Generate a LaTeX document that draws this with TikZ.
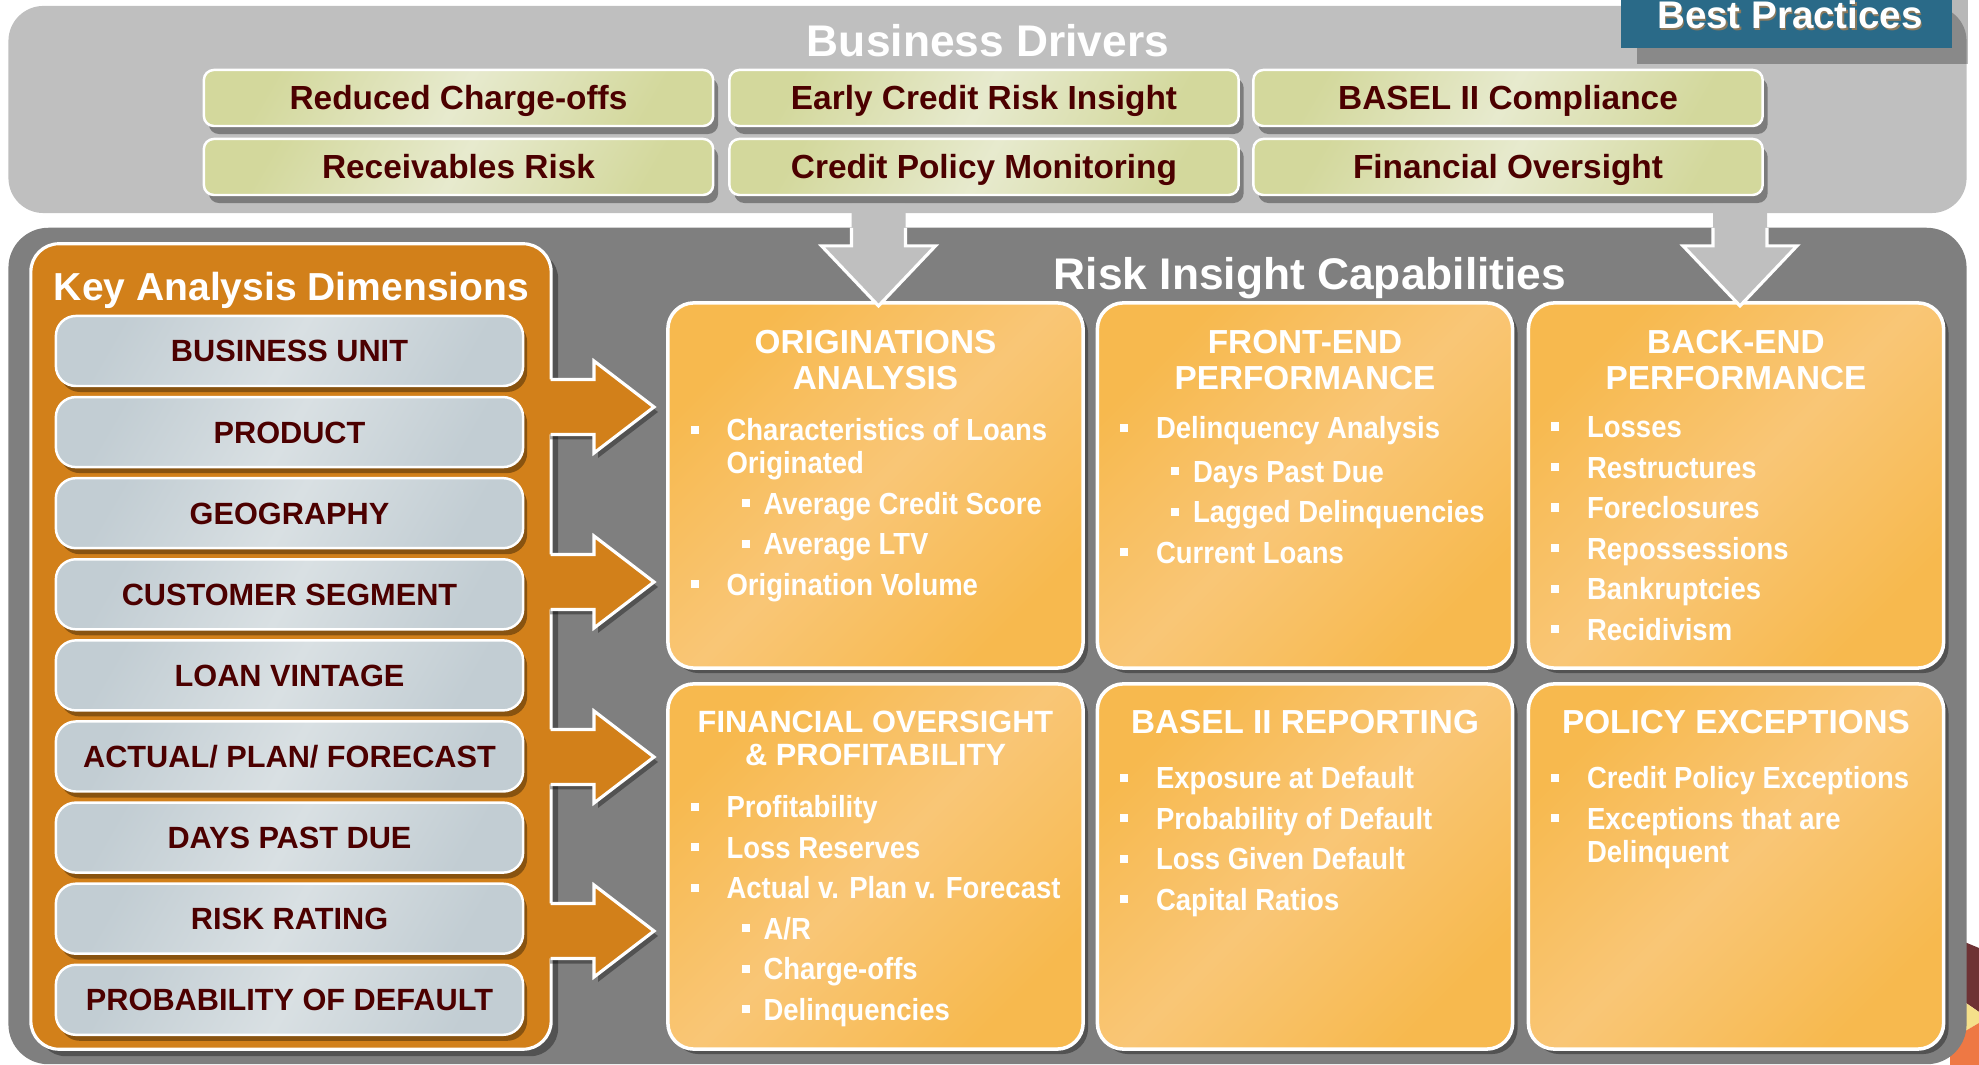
\documentclass[tikz,border=0pt]{standalone}
\usepackage{fontspec}
\setmainfont{Liberation Sans}
\newfontfamily\narrowfont{Liberation Sans}[FakeStretch=0.9]
\usetikzlibrary{calc,shadows}

\definecolor{drvpanelgray}{HTML}{BFBFBF}
\definecolor{rskpanelgray}{HTML}{7F7F7F}
\definecolor{dimorange}{HTML}{D2801A}
\definecolor{tabteal}{HTML}{2A6A88}
\definecolor{tabshadow}{HTML}{8C7A5E}
\definecolor{redtext}{HTML}{4C0000}
\definecolor{drvA}{HTML}{D3D89C}
\definecolor{drvB}{HTML}{E7EACE}
\definecolor{dimA}{HTML}{C2CDD3}
\definecolor{dimB}{HTML}{D9E0E3}
\definecolor{capA}{HTML}{F7B94E}
\definecolor{capB}{HTML}{F9C676}
\definecolor{decomaroon}{HTML}{6E3234}
\definecolor{decoyellow}{HTML}{F5E08A}
\definecolor{decoorange}{HTML}{EE7844}

% bullets for the capability lists
\newcommand{\bulsq}{\rule[2pt]{2.3pt}{2.3pt}}
\newcommand{\itm}[1]{\makebox[16.5pt][l]{\hspace{6.3pt}\bulsq}#1}
\newcommand{\subitm}[1]{\makebox[27pt][l]{\hspace{20.8pt}\bulsq}#1}
\newcommand{\cont}[1]{\hspace*{16.5pt}#1}

\tikzset{
  panel/.style={inner sep=0pt, outer sep=0pt, rounded corners=#1},
  title/.style={text=white, inner sep=0pt, font=\fontsize{12.6}{14}\selectfont\bfseries},
  drvbox/.style={draw=white, line width=0.7pt, rounded corners=0.1cm,
    left color=drvA, right color=drvA, middle color=drvB, shading angle=60,
    minimum width=5.09cm, minimum height=0.56cm, inner sep=0pt, outer sep=0pt,
    text height=6.8pt, text depth=0pt, text=redtext,
    font=\fontsize{9.5}{11}\selectfont\bfseries,
    drop shadow={shadow xshift=0.05cm, shadow yshift=-0.08cm, fill=black, opacity=0.35}},
  dimbox/.style={draw=white, line width=0.7pt, rounded corners=0.2cm,
    left color=dimA, right color=dimA, middle color=dimB, shading angle=60,
    minimum width=4.67cm, minimum height=0.70cm, inner sep=0pt, outer sep=0pt,
    text height=6.25pt, text depth=0pt, text=redtext,
    font=\fontsize{8.73}{10}\selectfont\bfseries,
    drop shadow={shadow xshift=0.04cm, shadow yshift=-0.06cm, fill=black, opacity=0.35}},
  capbox/.style={draw=white, line width=1pt, rounded corners=0.26cm,
    left color=capA, right color=capA, middle color=capB, shading angle=45,
    minimum width=4.15cm, minimum height=3.65cm, inner sep=0pt, outer sep=0pt,
    drop shadow={shadow xshift=0.05cm, shadow yshift=-0.05cm, fill=black, opacity=0.35}},
  caphead/.style={text=white, align=center, inner sep=0pt,
    font=\fontsize{9.47}{10.2}\selectfont\bfseries},
  capitems/.style={text=white, align=left, inner sep=0pt, anchor=north west,
    font=\narrowfont\bfseries\fontsize{8.68}{9.39}\selectfont}
}

\begin{document}
\begin{tikzpicture}[x=0.01cm, y=-0.01cm]
\useasboundingbox (0,0) rectangle (1979,1065);

% Business drivers
\node [panel=0.35cm, fill=drvpanelgray, minimum width=19.57cm, minimum height=2.07cm]
  (drvpanel) at (987.5,109.5) {};

% Best practices tab
\fill [black, opacity=0.28] (1637,-10) rectangle (1968,64);
\fill [tabteal] (1621,-10) rectangle (1952,48);
\node [anchor=base, inner sep=0pt, text=tabshadow,
  font=\fontsize{10.95}{12}\selectfont\bfseries] (bpshadow) at (1791.5,30.5) {Best Practices};
\node [anchor=base, inner sep=0pt, text=white,
  font=\fontsize{10.95}{12}\selectfont\bfseries] (bp) at (1790,29) {Best Practices};

\node [title, anchor=base] (drvtitle) at (988,57) {Business Drivers};

\node [drvbox] (chargeoffs) at (458.5,98) {Reduced Charge-offs};
\node [drvbox] (early) at (984,98) {Early Credit Risk Insight};
\node [drvbox] (basel2) at (1508,98) {BASEL II Compliance};
\node [drvbox] (receiv) at (458.5,167) {Receivables Risk};
\node [drvbox] (policymon) at (984,167) {Credit Policy Monitoring};
\node [drvbox] (finover) at (1508,167) {Financial Oversight};

% corner of the page art
\fill [decomaroon] (1950,936) -- (1979,948) -- (1979,1012) -- (1950,992) -- cycle;
\fill [decoyellow] (1950,992) -- (1979,1012) -- (1979,1023) -- (1950,1040) -- cycle;
\fill [decoorange] (1950,1040) -- (1979,1023) -- (1979,1065) -- (1950,1065) -- cycle;

% Risk insight panel
\node [panel=0.4cm, fill=rskpanelgray, minimum width=19.57cm, minimum height=8.36cm]
  (rskpanel) at (987.5,646) {};

% Key analysis dimensions
\node [panel=0.28cm, fill=dimorange, draw=white, line width=0.9pt,
  minimum width=5.2cm, minimum height=8.05cm,
  drop shadow={shadow xshift=0.07cm, shadow yshift=-0.07cm, fill=black, opacity=0.35}]
  (dims) at (291,646.5) {};

\node [anchor=base, inner sep=0pt, text=white,
  font=\fontsize{11.1}{13}\selectfont\bfseries] (dimtitle) at (291.5,301) {Key Analysis Dimensions};

\foreach \lbl [count=\i] in {BUSINESS UNIT, PRODUCT, GEOGRAPHY, CUSTOMER SEGMENT,
  LOAN VINTAGE, ACTUAL/ PLAN/ FORECAST, DAYS PAST DUE, RISK RATING, PROBABILITY OF DEFAULT}
  \node [dimbox] (dim\i) at (289.5,{351+81.1*(\i-1)}) {\lbl};

% arrows out of the dimensions
\foreach \c in {407,582,757,931}{
  \fill [dimorange, drop shadow={shadow xshift=0.04cm, shadow yshift=-0.05cm, fill=black, opacity=0.35}]
    (546,\c-27.5) -- (594,\c-27.5) -- (594,\c-46) -- (654,\c) -- (594,\c+46)
    -- (594,\c+27.5) -- (546,\c+27.5) -- cycle;
  \draw [white, line width=0.9pt]
    (550.5,\c-27.5) -- (594,\c-27.5) -- (594,\c-46) -- (654,\c) -- (594,\c+46)
    -- (594,\c+27.5) -- (550.5,\c+27.5);
}

% Capability boxes
\node [capbox] (orig) at (875.5,485.5) {};
\node [capbox] (front) at (1305,485.5) {};
\node [capbox] (back) at (1736,485.5) {};
\node [capbox] (finance) at (875.5,866.5) {};
\node [capbox] (basel) at (1305,866.5) {};
\node [capbox] (policy) at (1736,866.5) {};

% arrows down from the drivers
\foreach \b/\dx in {orig/3, back/4}{
  \coordinate (tip) at ($(\b.north)+(\dx,3)$);
  \fill [drvpanelgray] ($(tip)+(-27,-102)$) -- ($(tip)+(-27,-60)$) -- ($(tip)+(-57,-60)$)
    -- (tip) -- ($(tip)+(57,-60)$) -- ($(tip)+(27,-60)$) -- ($(tip)+(27,-102)$) -- cycle;
  \draw [white, line width=0.9pt] ($(tip)+(-27,-78)$) -- ($(tip)+(-27,-60)$) -- ($(tip)+(-57,-60)$)
    -- (tip) -- ($(tip)+(57,-60)$) -- ($(tip)+(27,-60)$) -- ($(tip)+(27,-78)$);
}

\node [title, anchor=base] (rsktitle) at (1310,290) {Risk Insight Capabilities};

% headings
\node [caphead, anchor=north] (origT) at ($(orig.north)+(0,27)$) {ORIGINATIONS\\ANALYSIS};
\node [caphead, anchor=north] (frontT) at ($(front.north)+(0,27)$) {FRONT-END\\PERFORMANCE};
\node [caphead, anchor=north] (backT) at ($(back.north)+(0,27)$) {BACK-END\\PERFORMANCE};
\node [caphead, anchor=north, font=\fontsize{8.75}{9.4}\selectfont\bfseries]
  (financeT) at ($(finance.north)+(0,26)$) {FINANCIAL OVERSIGHT\\\& PROFITABILITY};
\node [caphead, anchor=north] (baselT) at ($(basel.north)+(0,26)$) {BASEL II REPORTING};
\node [caphead, anchor=north] (policyT) at ($(policy.north)+(0,26)$) {POLICY EXCEPTIONS};

% lists
\node [capitems] (origL) at ($(orig.north west)+(0,115)$)
  {\itm{Characteristics of Loans}\\\cont{Originated}\\[2.13pt]\subitm{Average Credit Score}\\[2.13pt]
   \subitm{Average LTV}\\[2.13pt]\itm{Origination Volume}};
\node [capitems] (frontL) at ($(front.north west)+(0,113)$)
  {\itm{Delinquency Analysis}\\[3pt]\subitm{Days Past Due}\\[2.13pt]\subitm{Lagged Delinquencies}\\[2.13pt]
   \itm{Current Loans}};
\node [capitems] (backL) at ($(back.north west)+(0,113)$)
  {\itm{Losses}\\[2.13pt]\itm{Restructures}\\[2.13pt]\itm{Foreclosures}\\[2.13pt]
   \itm{Repossessions}\\[2.13pt]\itm{Bankruptcies}\\[2.13pt]\itm{Recidivism}};
\node [capitems] (financeL) at ($(finance.north west)+(0,111)$)
  {\itm{Profitability}\\[2.13pt]\itm{Loss Reserves}\\[2.13pt]\itm{Actual v. Plan v. Forecast}\\[2.13pt]
   \subitm{A/R}\\[2.13pt]\subitm{Charge-offs}\\[2.13pt]\subitm{Delinquencies}};
\node [capitems] (baselL) at ($(basel.north west)+(0,82)$)
  {\itm{Exposure at Default}\\[2.13pt]\itm{Probability of Default}\\[2.13pt]\itm{Loss Given Default}\\[2.13pt]
   \itm{Capital Ratios}};
\node [capitems] (policyL) at ($(policy.north west)+(0,82)$)
  {\itm{Credit Policy Exceptions}\\[2.13pt]\itm{Exceptions that are}\\\cont{Delinquent}};

\end{tikzpicture}
\end{document}
